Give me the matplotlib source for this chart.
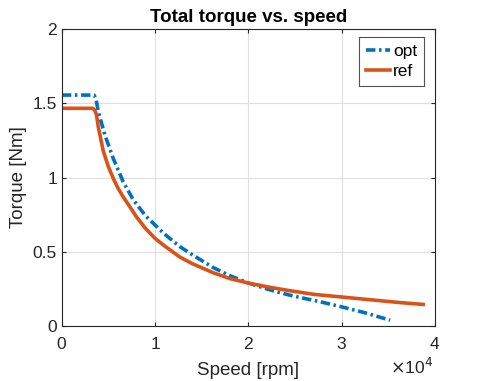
import numpy as np
import matplotlib
matplotlib.use("Agg")
import matplotlib.pyplot as plt
from matplotlib.ticker import ScalarFormatter

plt.rcParams["font.family"] = ["Liberation Sans", "DejaVu Sans"]

# -----------------------------------
# Data
# -----------------------------------

speed_opt = [0, 3450, 3650, 3900, 4610, 5500, 6570, 7650, 9000, 10000,
             11000, 12650, 14000, 16200, 18000, 20000, 22000, 23400, 25000,
             27700, 30000, 32500, 35200]
torque_opt = [1.555, 1.555, 1.53, 1.443, 1.286, 1.129, 0.972, 0.85, 0.74, 0.68,
              0.62, 0.535, 0.48, 0.395, 0.34, 0.29, 0.25, 0.225, 0.2,
              0.164, 0.13, 0.09, 0.04]

speed_ref = [0, 3300, 3500, 3700, 3900, 4430, 4970, 5500, 6000, 6570, 7000,
             8000, 9000, 10000, 11000, 12650, 14000, 16200, 18000, 20000,
             22000, 24000, 27000, 30000, 33000, 36000, 38750]
torque_ref = [1.466, 1.466, 1.455, 1.425, 1.34, 1.18, 1.075, 0.995, 0.93, 0.87, 0.83,
              0.735, 0.655, 0.59, 0.54, 0.465, 0.42, 0.36, 0.32, 0.29,
              0.265, 0.243, 0.214, 0.196, 0.178, 0.16, 0.146]

x_ticks = [0, 10000, 20000, 30000, 40000]
y_ticks = [0, 0.5, 1, 1.5, 2]

blue = "#0072BD"
orange = "#D95319"
axis_color = "#262626"

# -----------------------------------
# Plot
# -----------------------------------

fig = plt.figure(figsize=(4.8, 3.81), dpi=100)
ax = fig.add_axes([0.129, 0.144, 0.777, 0.780])

ax.plot(speed_opt, torque_opt, color=blue, linewidth=2.6,
        linestyle=(0, (2.6, 1.0, 0.7, 1.0)), label="opt")
ax.plot(speed_ref, torque_ref, color=orange, linewidth=2.6, label="ref")

ax.set_xlim(0, 40000)
ax.set_ylim(0, 2)
ax.set_xticks(x_ticks)
ax.set_yticks(y_ticks)
ax.set_yticklabels(["0", "0.5", "1", "1.5", "2"])

fmt = ScalarFormatter(useMathText=True)
fmt.set_powerlimits((0, 0))
ax.xaxis.set_major_formatter(fmt)
ax.xaxis.get_offset_text().set_visible(False)
fig.text(433 / 480, 1 - 374 / 381, r"$\times$10$^{4}$", fontsize=12.5,
         color=axis_color, ha="right", va="baseline")

ax.grid(True, color="#dfdfdf", linewidth=0.8)
ax.set_axisbelow(True)

for spine in ax.spines.values():
    spine.set_color(axis_color)
    spine.set_linewidth(0.8)

ax.tick_params(axis="both", direction="in", length=3, width=0.8,
               colors=axis_color, labelsize=12.5, top=True, right=True)
ax.tick_params(axis="x", pad=7)

ax.set_xlabel("Speed [rpm]", fontsize=13.5, color=axis_color, labelpad=7)
ax.set_ylabel("Torque [Nm]", fontsize=13.5, color=axis_color, labelpad=4)
ax.set_title("Total torque vs. speed", fontsize=13.5, fontweight="bold", pad=5)

leg = ax.legend(loc="upper right", bbox_to_anchor=(0.9705, 0.973),
                fontsize=12.5, frameon=True, fancybox=False,
                handlelength=1.4, handletextpad=0.15, borderpad=0.4,
                labelspacing=0.3, borderaxespad=0.0)
leg.get_frame().set_edgecolor(axis_color)
leg.get_frame().set_linewidth(0.8)

fig.savefig("out.png", dpi=100)
plt.close(fig)
